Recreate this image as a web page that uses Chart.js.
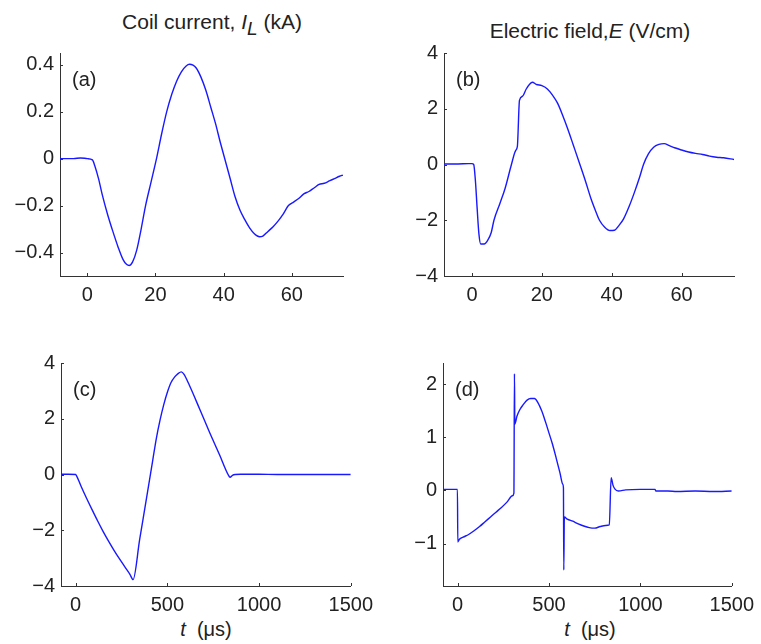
<!DOCTYPE html>
<html>
<head>
<meta charset="utf-8">
<script src="https://cdn.jsdelivr.net/npm/chart.js@4.4.0/dist/chart.umd.min.js"></script>
<style>
  body { margin: 0; background: #fff; width: 761px; height: 644px; position: relative; overflow: hidden;
         font-family: "Liberation Sans", Arial, sans-serif; color: #222; }
  .box { position: absolute; }
  .lbl { position: absolute; font-size: 21px; line-height: 21px; text-align: center; white-space: nowrap; }
  .lbl sub { font-size: 19px; vertical-align: -6px; line-height: 0; }
  .xl { font-size: 20px; line-height: 20px; }
</style>
</head>
<body>

<div class="lbl" style="left:62px; top:11px; width:300px;">Coil current, <i>I</i><sub><i>L</i></sub> (kA)</div>
<div class="lbl" style="left:440px; top:20px; width:300px;">Electric field,<i>E</i> (V/cm)</div>
<div class="lbl xl" style="left:106px; top:619px; width:200px;"><i>t</i>&nbsp; (μs)</div>
<div class="lbl xl" style="left:490px; top:619px; width:200px;"><i>t</i>&nbsp; (μs)</div>

<div class="box" style="left:0; top:0; width:380px; height:310px;"><canvas id="chA" width="380" height="310"></canvas></div>
<div class="box" style="left:380px; top:0; width:381px; height:310px;"><canvas id="chB" width="381" height="310"></canvas></div>
<div class="box" style="left:0; top:310px; width:380px; height:310px;"><canvas id="chC" width="380" height="310"></canvas></div>
<div class="box" style="left:380px; top:310px; width:381px; height:310px;"><canvas id="chD" width="381" height="310"></canvas></div>

<script>
// (a) coil current, kA, t in us
const tA = [-8, -4, -2, 0, 1.5, 2.2, 3.3, 4.5, 6, 7.5, 9, 10.5, 11.5, 12.3, 13.3, 14.5, 15.8, 17.1, 18.7, 20.3,
  21.8, 23.3, 24.8, 26.2, 27.6, 29, 30, 31, 32, 33.4, 34.8, 36.2, 37.6, 39, 40.5, 42, 43.3, 44.8, 46.2, 47.6,
  49, 50.5, 51.5, 53, 54.5, 56, 57.5, 59, 60.5, 62, 63.5, 65, 66.5, 68, 69.5, 71, 72.5, 74, 75];
const iA = [0, 0, 0.003, 0, -0.005, -0.03, -0.085, -0.16, -0.24, -0.31, -0.375, -0.43, -0.45, -0.455, -0.44, -0.39, -0.3, -0.2, -0.1, 0,
  0.105, 0.2, 0.275, 0.33, 0.37, 0.395, 0.402, 0.398, 0.385, 0.345, 0.29, 0.22, 0.15, 0.07, -0.01, -0.09, -0.16, -0.22, -0.26, -0.295,
  -0.32, -0.333, -0.33, -0.31, -0.29, -0.265, -0.235, -0.2, -0.185, -0.17, -0.15, -0.14, -0.125, -0.11, -0.105, -0.095, -0.085, -0.075, -0.07];

// (b) electric field, V/cm
const tB = [-8, -4, -1, 0, 0.5, 1, 1.5, 2, 2.5, 3.5, 4.5, 5.5, 6.3, 8, 9.5, 11.3, 12.5, 13, 13.6, 14.5,
  15.5, 16.5, 17.3, 18.5, 20, 21.5, 23, 24.5, 26, 27.5, 29, 30.9, 32.5, 34, 35.5, 36.5, 38, 39.5, 40.8, 42,
  43.4, 45, 46.5, 48, 49.1, 50.5, 52, 53.5, 55, 56.5, 58, 60, 62, 64, 66, 68, 70, 72, 75];
const eB = [0.02, 0.02, 0.03, 0.03, 0, -0.6, -1.6, -2.5, -2.85, -2.85, -2.72, -2.45, -2.0, -1.4, -0.85, 0, 0.5, 0.65, 2.3, 2.45,
  2.7, 2.88, 2.95, 2.87, 2.83, 2.72, 2.5, 2.2, 1.75, 1.25, 0.7, 0, -0.6, -1.2, -1.7, -2.0, -2.25, -2.37, -2.36, -2.2,
  -1.95, -1.5, -1.0, -0.45, 0, 0.38, 0.62, 0.72, 0.75, 0.68, 0.6, 0.52, 0.45, 0.4, 0.36, 0.3, 0.26, 0.24, 0.18];

// (c) coil current, kA, long pulse
const tC = [-80, -40, 0, 5, 30, 60, 90, 120, 150, 180, 210, 240, 270, 295, 313, 349, 385, 420, 440, 460,
  480, 500, 520, 540, 560, 576, 590, 620, 676, 731, 785, 831, 842, 855, 870, 900, 1000, 1100, 1200, 1300, 1400, 1500];
const iC = [0.01, 0.01, 0, -0.05, -0.43, -0.86, -1.27, -1.67, -2.05, -2.4, -2.73, -3.04, -3.33, -3.57, -3.77, -2.33, -0.9, 0.5, 1.3, 1.95,
  2.5, 2.95, 3.3, 3.5, 3.63, 3.68, 3.6, 3.2, 2.35, 1.5, 0.7, 0, -0.1, -0.03, 0, 0.01, 0.01, 0, 0, 0, 0, 0];

// (d) electric field, V/cm, long pulse
const tD = [-80, -40, -1, 1, 10, 30, 60, 90, 120, 150, 180, 210, 240, 270, 300, 308, 311, 313, 325, 340,
  360, 380, 400, 420, 440, 460, 480, 500, 520, 540, 560, 575, 579, 581, 584, 600, 630, 660, 690, 720, 750,
  780, 810, 830, 840, 850, 860, 880, 920, 1000, 1080, 1085, 1150, 1200, 1300, 1400, 1500];
const eD = [0.02, 0.02, 0.02, -0.97, -0.92, -0.88, -0.83, -0.76, -0.68, -0.59, -0.5, -0.41, -0.32, -0.22, -0.1, -0.05, 2.2, 1.25, 1.4, 1.52,
  1.62, 1.7, 1.73, 1.73, 1.65, 1.5, 1.3, 1.08, 0.86, 0.6, 0.33, 0.12, 0.05, -1.5, -0.5, -0.54, -0.58, -0.63, -0.67, -0.7, -0.71,
  -0.68, -0.66, -0.65, 0.24, 0.1, 0.03, -0.01, 0.01, 0.02, 0.02, -0.01, -0.01, -0.02, -0.01, -0.02, -0.01];

// tick values
const xTicksShort = [0, 20, 40, 60];
const xTicksLong = [0, 500, 1000, 1500];
const yTicksA = [-0.4, -0.2, 0, 0.2, 0.4];
const yTicksB = [-4, -2, 0, 2, 4];
const yTicksC = [-4, -2, 0, 2, 4];
const yTicksD = [-1, 0, 1, 2];

const tickFont = { family: '"Liberation Sans", Arial, sans-serif', size: 20 };

const inwardTicks = {
  id: 'inwardTicks',
  afterDraw(chart, args, opts) {
    const { ctx, chartArea: a, scales } = chart;
    ctx.save();
    ctx.strokeStyle = '#333';
    ctx.lineWidth = 1;
    ctx.beginPath();
    scales.x.ticks.forEach(t => {
      const px = Math.round(scales.x.getPixelForValue(t.value)) + 0.5;
      ctx.moveTo(px, a.bottom);
      ctx.lineTo(px, a.bottom - 3);
    });
    scales.y.ticks.forEach(t => {
      const py = Math.round(scales.y.getPixelForValue(t.value)) + 0.5;
      ctx.moveTo(a.left, py);
      ctx.lineTo(a.left + 3, py);
    });
    ctx.stroke();
    ctx.fillStyle = '#222';
    ctx.font = '20px "Liberation Sans", Arial, sans-serif';
    ctx.textBaseline = 'middle';
    ctx.fillText(opts.label, a.left + 12, a.top + 27);
    ctx.restore();
  }
};

function minus(v) {
  return (v < 0 ? '\u2212' : '') + Math.abs(v);
}

function panel(id, xs, ys, label, xr, yr, xt, yt, yWidth, pad) {
  const ctx = document.getElementById(id);
  new Chart(ctx, {
    type: 'line',
    data: {
      datasets: [{
        data: xs.map((x, i) => ({ x: x, y: ys[i] })),
        borderColor: 'rgb(25,25,255)',
        borderWidth: 1.4,
        pointRadius: 0,
        fill: false,
        cubicInterpolationMode: 'monotone'
      }]
    },
    options: {
      responsive: false,
      animation: false,
      layout: { padding: pad },
      plugins: { legend: { display: false }, tooltip: { enabled: false }, inwardTicks: { label: label } },
      scales: {
        x: {
          type: 'linear', min: xr[0], max: xr[1],
          afterBuildTicks: s => { s.ticks = xt.map(v => ({ value: v })); },
          afterFit: s => { s.height = 30; },
          grid: { display: false, drawTicks: false },
          border: { display: true, color: '#333', width: 1 },
          ticks: { font: tickFont, color: '#222', padding: 7, maxRotation: 0, callback: v => minus(v) }
        },
        y: {
          min: yr[0], max: yr[1],
          afterBuildTicks: s => { s.ticks = yt.map(v => ({ value: v })); },
          afterFit: s => { s.width = yWidth; },
          grid: { display: false, drawTicks: false },
          border: { display: true, color: '#333', width: 1 },
          ticks: { font: tickFont, color: '#222', padding: 6, callback: v => minus(v) }
        }
      }
    },
    plugins: [inwardTicks]
  });
}

panel('chA', tA, iA, '(a)', [-8, 75], [-0.5, 0.45], xTicksShort, yTicksA, 60, { top: 53, right: 37, bottom: 4, left: 0 });
panel('chB', tB, eB, '(b)', [-8, 75], [-4, 4], xTicksShort, yTicksB, 64, { top: 53, right: 27, bottom: 4, left: 0 });
panel('chC', tC, iC, '(c)', [-80, 1500], [-4, 4], xTicksLong, yTicksC, 61, { top: 53, right: 28, bottom: 4, left: 0 });
panel('chD', tD, eD, '(d)', [-80, 1500], [-1.8, 2.4], xTicksLong, yTicksD, 63, { top: 53, right: 27, bottom: 4, left: 0 });
</script>
</body>
</html>
